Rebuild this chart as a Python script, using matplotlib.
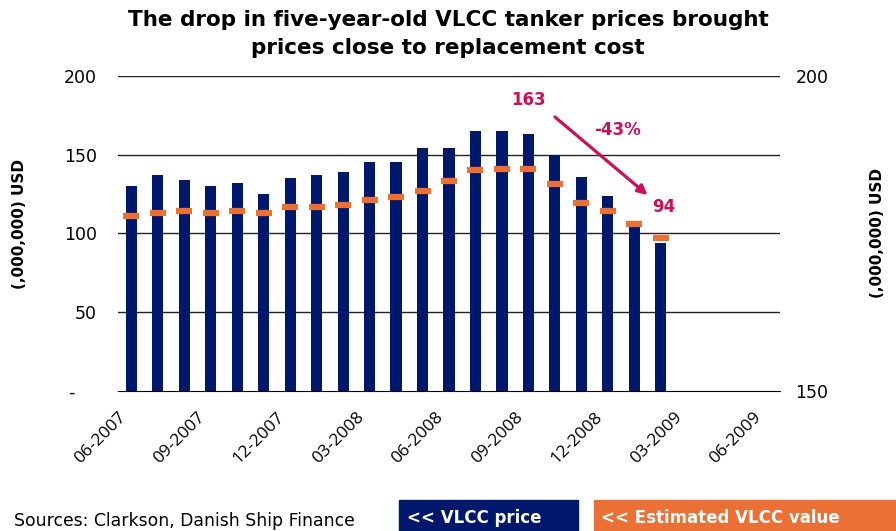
import matplotlib.pyplot as plt
from matplotlib.patches import Rectangle
from matplotlib.transforms import ScaledTranslation

# monthly categories 06-2007 .. 06-2009, only every third one is labelled
months = ["06-2007", "07-2007", "08-2007", "09-2007", "10-2007", "11-2007",
          "12-2007", "01-2008", "02-2008", "03-2008", "04-2008", "05-2008",
          "06-2008", "07-2008", "08-2008", "09-2008", "10-2008", "11-2008",
          "12-2008", "01-2009", "02-2009", "03-2009", "04-2009", "05-2009",
          "06-2009"]
vlcc_price = [130, 137, 134, 130, 132, 125, 135, 137, 139, 145, 145,
              154, 154, 165, 165, 163, 150, 136, 124, 108, 94]
vlcc_value = [111, 113, 114, 113, 114, 113, 117, 117, 118, 121, 123,
              127, 133, 140, 141, 141, 131, 119, 114, 106, 97]
peak_label = "163"
low_label = "94"
change_label = "-43%"

navy = "#00186B"
orange = "#EB7035"
pink = "#CC0F5A"

fig = plt.figure(figsize=(8.96, 5.31), dpi=100)
ax = fig.add_axes([118/896, 1-391/531, (780-118)/896, (391-75.7)/531])

x = list(range(len(vlcc_price)))
ax.bar(x, vlcc_price, width=0.42, color=navy, zorder=3)
ax.plot(x, vlcc_value, linestyle="none", marker="_", markersize=11,
        markeredgewidth=4.5, color=orange, zorder=4)

ax.set_xlim(-0.5, len(months)-0.5)
ax.set_ylim(0, 200)
ax.set_yticks([0, 50, 100, 150, 200])
ax.set_yticklabels(["-\u2007\u2007", "50", "100", "150", "200"])
ax.set_xticks(range(0, len(months), 3))
ax.set_xticklabels(months[::3], rotation=45, ha="right", va="center",
                   rotation_mode="anchor", fontsize=12.5, family="Open Sans")
ax.tick_params(axis="x", length=0, pad=17)
ax.tick_params(axis="y", length=0, pad=15, labelsize=12.5)
# move the slanted labels a little to the left, like the original
shift = ScaledTranslation(-8/100, 0, fig.dpi_scale_trans)
for lbl in ax.get_xticklabels():
    lbl.set_transform(lbl.get_transform() + shift)
for s in ["left", "right", "top"]:
    ax.spines[s].set_visible(False)
ax.spines["bottom"].set_color("black")
ax.spines["bottom"].set_zorder(5)
for v in [50, 100, 150, 200]:
    ax.axhline(v, color="#222222", lw=1, zorder=1)

ax2 = ax.twinx()
ax2.set_ylim(150, 200)
ax2.set_yticks([150, 200])
ax2.tick_params(axis="y", length=0, pad=11, labelsize=12.5)
for s in ax2.spines.values():
    s.set_visible(False)

# annotations
ax.text(15, 184.6, peak_label, color=pink, fontsize=12, fontweight="bold",
        ha="center", va="center")
ax.text(18.38, 165.5, change_label, color=pink, fontsize=12, fontweight="bold",
        ha="center", va="center")
ax.text(20.12, 116.7, low_label, color=pink, fontsize=12, fontweight="bold",
        ha="center", va="center")
ax.annotate("", xy=(19.5, 124.3), xytext=(16.0, 173.8),
            arrowprops=dict(arrowstyle="-|>", color=pink, lw=2.3,
                            mutation_scale=14, shrinkA=0, shrinkB=0))

fig.text(0.5, 1-20/531, "The drop in five-year-old VLCC tanker prices brought",
         ha="center", va="center", fontsize=15.5, fontweight="bold")
fig.text(0.5, 1-48/531, "prices close to replacement cost",
         ha="center", va="center", fontsize=15.5, fontweight="bold")
fig.text(20/896, 1-224/531, "(,000,000) USD", rotation=90, ha="center",
         va="center", fontsize=11, fontweight="bold")
fig.text(877/896, 1-233/531, "(,000,000) USD", rotation=90, ha="center",
         va="center", fontsize=11, fontweight="bold")

# footer with the legend boxes
fig.text(14/896, 1-521/531, "Sources: Clarkson, Danish Ship Finance",
         ha="left", va="center", fontsize=12.4)
fig.patches.append(Rectangle((399/896, 0), 179/896, 31/531, color=navy,
                             transform=fig.transFigure, figure=fig))
fig.patches.append(Rectangle((594/896, 0), 302/896, 31/531, color=orange,
                             transform=fig.transFigure, figure=fig))
fig.text(407/896, 1-518/531, "<< VLCC price", color="white", ha="left",
         va="center", fontsize=12, fontweight="bold")
fig.text(601/896, 1-518/531, "<< Estimated VLCC value", color="white",
         ha="left", va="center", fontsize=12, fontweight="bold")

fig.savefig("out.png", dpi=100)
